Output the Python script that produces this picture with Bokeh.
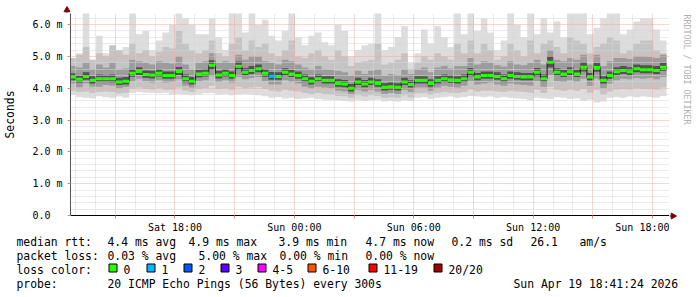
import math
import numpy as np
from bokeh.plotting import figure
from bokeh.layouts import column, row
from bokeh.models import FixedTicker, Range1d
from bokeh.core.properties import value
from bokeh.embed import file_html
from bokeh.resources import INLINE

# ---------------- data (hours since Sat 00:00, values in ms) ----------------
START_H = 12.7          # first sample (Sat 12:42)
STEP_H = 1.0 / 3.0      # 20 minute consolidated steps

median = [4.35, 4.28, 4.37, 4.25, 4.30, 4.30, 4.30, 4.20, 4.22, 4.47,
          4.53, 4.43, 4.42, 4.47, 4.40, 4.40, 4.53, 4.30, 4.22, 4.45,
          4.47, 4.72, 4.42, 4.47, 4.40, 4.69, 4.50, 4.56, 4.61, 4.47,
          4.38, 4.37, 4.50, 4.45, 4.40, 4.30, 4.22, 4.30, 4.25, 4.25,
          4.15, 4.13, 4.00, 4.20, 4.13, 4.20, 4.15, 4.03, 4.05, 4.03,
          4.20, 4.12, 4.25, 4.25, 4.15, 4.25, 4.30, 4.27, 4.25, 4.30,
          4.50, 4.35, 4.40, 4.40, 4.37, 4.30, 4.40, 4.37, 4.35, 4.35,
          4.50, 4.30, 4.82, 4.50, 4.45, 4.52, 4.45, 4.66, 4.35, 4.65,
          4.25, 4.40, 4.52, 4.56, 4.52, 4.61, 4.58, 4.58, 4.56, 4.66]

loss = [0, 0, 0, 0, 0, 0, 0, 0, 0, 0,
        0, 0, 0, 0, 0, 0, 0, 0, 0, 0,
        0, 0, 0, 0, 0, 0, 0, 0, 0, 0,
        1, 0, 0, 0, 0, 0, 0, 0, 0, 0,
        0, 0, 0, 0, 0, 0, 0, 0, 0, 0,
        0, 0, 0, 0, 0, 0, 0, 0, 0, 0,
        0, 0, 0, 0, 0, 0, 0, 0, 0, 0,
        0, 0, 0, 0, 0, 0, 0, 0, 0, 0,
        0, 0, 0, 0, 0, 0, 0, 0, 0, 0]

outer_hi = [4.80, 5.10, 6.40, 4.90, 5.65, 5.10, 5.20, 5.20, 5.30, 6.40,
            5.70, 5.80, 5.20, 5.50, 5.75, 6.00, 6.40, 6.20, 6.00, 5.70,
            5.70, 6.20, 5.60, 5.20, 6.40, 6.40, 5.75, 6.40, 6.00, 6.15,
            5.65, 5.50, 5.80, 6.40, 5.60, 5.35, 5.65, 5.75, 5.45, 5.35,
            6.00, 5.80, 5.00, 5.20, 5.35, 5.40, 6.40, 5.20, 5.30, 5.60,
            5.95, 4.80, 5.10, 5.85, 5.40, 5.95, 5.60, 5.30, 6.40, 5.70,
            6.40, 5.80, 6.20, 5.75, 5.20, 5.50, 6.40, 6.00, 5.60, 6.40,
            5.70, 6.20, 5.75, 6.10, 5.60, 6.40, 6.40, 6.40, 5.70, 5.90,
            6.20, 6.40, 6.40, 5.70, 5.85, 6.10, 6.20, 6.20, 5.85, 5.50]

outer_lo = [3.80, 3.72, 3.70, 3.68, 3.75, 3.72, 3.70, 3.74, 3.70, 3.85,
            3.88, 3.86, 3.85, 3.84, 3.86, 3.80, 3.82, 3.80, 3.78, 3.82,
            3.84, 3.85, 3.80, 3.82, 3.78, 3.80, 3.82, 3.80, 3.78, 3.75,
            3.70, 3.72, 3.68, 3.70, 3.66, 3.68, 3.70, 3.66, 3.64, 3.62,
            3.62, 3.60, 3.58, 3.62, 3.60, 3.62, 3.64, 3.58, 3.60, 3.58,
            3.62, 3.60, 3.70, 3.72, 3.66, 3.70, 3.72, 3.74, 3.70, 3.72,
            3.76, 3.74, 3.72, 3.74, 3.70, 3.72, 3.70, 3.68, 3.66, 3.62,
            3.70, 3.68, 3.66, 3.72, 3.70, 3.66, 3.68, 3.60, 3.64, 3.55,
            3.58, 3.70, 3.72, 3.70, 3.74, 3.72, 3.74, 3.72, 3.70, 3.76]

mid_hi = [4.95, 5.05, 5.30, 4.90, 5.10, 5.00, 5.35, 5.20, 5.05, 5.40,
          5.10, 5.20, 5.00, 5.15, 5.30, 5.25, 5.80, 5.40, 5.20, 5.10,
          5.20, 5.50, 5.10, 5.00, 5.40, 5.60, 5.20, 5.50, 5.30, 5.40,
          5.10, 5.00, 5.20, 5.50, 5.00, 4.95, 5.10, 5.20, 5.00, 4.90,
          5.20, 5.00, 4.70, 4.80, 4.85, 4.90, 5.40, 4.75, 4.80, 4.90,
          5.10, 4.60, 4.80, 5.00, 4.90, 5.10, 5.00, 4.90, 5.40, 5.10,
          5.50, 5.10, 5.40, 5.20, 4.90, 5.00, 5.40, 5.20, 5.00, 5.50,
          5.10, 5.40, 5.50, 5.30, 5.10, 5.60, 5.50, 5.40, 5.10, 5.30,
          5.40, 5.60, 5.50, 5.10, 5.20, 5.40, 5.50, 5.50, 5.20, 5.10]

mid_lo = [3.92, 3.88, 3.90, 3.85, 3.88, 3.90, 3.88, 3.84, 3.86, 3.98,
          4.02, 3.98, 3.96, 4.00, 3.95, 3.96, 4.02, 3.92, 3.88, 3.98,
          4.00, 4.08, 3.98, 4.00, 3.95, 4.05, 4.00, 4.02, 4.05, 3.98,
          3.92, 3.90, 3.95, 3.92, 3.90, 3.85, 3.82, 3.85, 3.82, 3.80,
          3.76, 3.75, 3.70, 3.78, 3.74, 3.78, 3.76, 3.70, 3.72, 3.70,
          3.78, 3.72, 3.84, 3.85, 3.80, 3.85, 3.88, 3.86, 3.85, 3.88,
          3.96, 3.90, 3.92, 3.92, 3.90, 3.88, 3.92, 3.90, 3.88, 3.86,
          3.95, 3.85, 4.05, 3.95, 3.92, 3.95, 3.92, 3.98, 3.86, 3.95,
          3.80, 3.90, 3.96, 3.98, 3.96, 4.00, 3.98, 3.98, 3.96, 4.02]

dark_hi = [4.70, 4.65, 4.80, 4.60, 4.75, 4.65, 4.80, 4.60, 4.62, 4.90,
           4.85, 4.80, 4.75, 4.85, 4.80, 4.78, 5.00, 4.75, 4.60, 4.80,
           4.85, 5.10, 4.80, 4.85, 4.80, 5.05, 4.90, 5.00, 5.00, 4.85,
           4.80, 4.75, 4.90, 4.85, 4.75, 4.65, 4.60, 4.70, 4.60, 4.58,
           4.55, 4.50, 4.40, 4.55, 4.45, 4.55, 4.60, 4.40, 4.45, 4.42,
           4.60, 4.45, 4.60, 4.65, 4.50, 4.65, 4.70, 4.62, 4.70, 4.70,
           4.95, 4.75, 4.85, 4.80, 4.72, 4.68, 4.85, 4.75, 4.72, 4.80,
           4.90, 4.75, 5.20, 4.90, 4.85, 4.95, 4.90, 5.05, 4.75, 5.05,
           4.70, 4.85, 4.95, 4.95, 4.92, 5.00, 5.00, 4.98, 4.95, 5.05]

dark_lo = [4.15, 4.03, 4.15, 4.05, 4.05, 4.10, 4.08, 4.00, 4.04, 4.22,
           4.30, 4.22, 4.18, 4.25, 4.18, 4.20, 4.28, 4.08, 4.02, 4.22,
           4.25, 4.38, 4.20, 4.25, 4.18, 4.35, 4.28, 4.32, 4.35, 4.22,
           4.12, 4.12, 4.25, 4.20, 4.15, 4.05, 4.00, 4.05, 4.02, 4.00,
           3.92, 3.90, 3.80, 3.95, 3.90, 3.95, 3.90, 3.82, 3.85, 3.82,
           3.95, 3.88, 4.02, 4.02, 3.92, 4.02, 4.08, 4.05, 4.02, 4.08,
           4.22, 4.12, 4.15, 4.18, 4.12, 4.08, 4.15, 4.12, 4.10, 4.08,
           4.22, 4.05, 4.40, 4.22, 4.20, 4.25, 4.20, 4.30, 4.08, 4.30,
           4.00, 4.15, 4.25, 4.30, 4.28, 4.32, 4.30, 4.32, 4.28, 4.35]

core_hi = [4.47, 4.40, 4.50, 4.38, 4.43, 4.42, 4.43, 4.33, 4.35, 4.60,
           4.66, 4.56, 4.55, 4.60, 4.53, 4.53, 4.67, 4.43, 4.35, 4.58,
           4.60, 4.88, 4.55, 4.60, 4.53, 4.84, 4.64, 4.70, 4.75, 4.60,
           4.51, 4.50, 4.63, 4.58, 4.53, 4.43, 4.35, 4.43, 4.38, 4.38,
           4.28, 4.26, 4.13, 4.33, 4.26, 4.33, 4.28, 4.16, 4.18, 4.16,
           4.33, 4.25, 4.38, 4.38, 4.28, 4.38, 4.43, 4.40, 4.38, 4.43,
           4.64, 4.48, 4.53, 4.53, 4.50, 4.43, 4.53, 4.50, 4.48, 4.48,
           4.64, 4.43, 5.00, 4.63, 4.58, 4.66, 4.58, 4.82, 4.48, 4.80,
           4.38, 4.53, 4.66, 4.70, 4.66, 4.75, 4.72, 4.72, 4.70, 4.80]

core_lo = [4.25, 4.18, 4.27, 4.15, 4.20, 4.20, 4.19, 4.10, 4.12, 4.36,
           4.42, 4.33, 4.31, 4.37, 4.30, 4.30, 4.42, 4.19, 4.12, 4.34,
           4.37, 4.58, 4.31, 4.37, 4.30, 4.57, 4.40, 4.45, 4.50, 4.36,
           4.27, 4.27, 4.39, 4.35, 4.30, 4.20, 4.12, 4.20, 4.15, 4.15,
           4.05, 4.03, 3.90, 4.10, 4.03, 4.10, 4.05, 3.93, 3.95, 3.93,
           4.10, 4.02, 4.15, 4.15, 4.05, 4.15, 4.20, 4.17, 4.15, 4.20,
           4.38, 4.25, 4.30, 4.30, 4.27, 4.20, 4.30, 4.27, 4.25, 4.25,
           4.38, 4.20, 4.65, 4.39, 4.35, 4.41, 4.35, 4.53, 4.25, 4.52,
           4.15, 4.30, 4.41, 4.45, 4.41, 4.50, 4.47, 4.47, 4.45, 4.55]

x_tick_pos = [18, 24, 30, 36, 42]
x_tick_labels = ["Sat 18:00", "Sun 00:00", "Sun 06:00", "Sun 12:00", "Sun 18:00"]
y_tick_pos = [0, 1, 2, 3, 4, 5, 6]
y_tick_labels = ["0.0\u00a0\u00a0", "1.0 m", "2.0 m", "3.0 m", "4.0 m", "5.0 m", "6.0 m"]

loss_keys = [0, 1, 2, 3, 5, 10, 19, 20]
loss_names = ["0", "1", "2", "3", "4-5", "6-10", "11-19", "20/20"]
loss_colors = ["#26ff00", "#00b8ff", "#0059ff", "#5e00ff", "#ff00ff", "#ff5500", "#ff0000", "#a10000"]

stats_rtt = ["4.4 ms avg", "4.9 ms max", "3.9 ms min", "4.7 ms now", "0.2 ms sd", "26.1", "am/s"]
stats_loss = ["0.03 % avg", "5.00 % max", "0.00 % min", "0.00 % now"]
probe_text = "20 ICMP Echo Pings (56 Bytes) every 300s"
stamp_text = "Sun Apr 19 18:41:24 2026"
watermark = "RRDTOOL / TOBI OETIKER"

# ---------------- derived plotting arrays ----------------
n = len(median)
t_left = START_H + np.arange(n) * STEP_H
t_right = t_left + STEP_H
xs = np.empty(2 * n)
xs[0::2] = t_left
xs[1::2] = t_right


def stepped(a):
    return np.repeat(np.asarray(a, dtype=float), 2)


def loss_color(v):
    for k, c in zip(loss_keys, loss_colors):
        if v <= k:
            return c
    return loss_colors[-1]


# ---------------- layout geometry (canvas pixels) ----------------
W, H = 697, 297
FL, FT, FW, FH = 67, 13, 602, 202          # plot frame
MAIN_W = FL + FW                            # 669
MAIN_H = 236                                # main figure bottom edge
FONT = "DejaVu Sans Mono"
TXT = "11.4px"


def strip(w, h, x0, x1, y0, y1):
    f = figure(width=w, height=h, output_backend="svg", toolbar_location=None,
               x_range=Range1d(x0, x1), y_range=Range1d(y0, y1),
               x_axis_location=None, y_axis_location=None, min_border=0)
    f.outline_line_color = None
    f.background_fill_color = "white"
    f.border_fill_color = "white"
    f.xgrid.visible = False
    f.ygrid.visible = False
    return f


# ---------------- main plot ----------------
p = figure(width=MAIN_W, height=MAIN_H - FT, output_backend="svg", toolbar_location=None,
           x_range=Range1d(12.75, 42.85), y_range=Range1d(0, 6.35),
           min_border_left=FL, min_border_right=0, min_border_top=0,
           min_border_bottom=MAIN_H - FT - FH)
p.background_fill_color = "white"
p.border_fill_color = "white"
p.outline_line_color = None

for lo, hi, col in [(outer_lo, outer_hi, "#dddddd"), (mid_lo, mid_hi, "#c4c4c4"),
                    (dark_lo, dark_hi, "#9c9c9c"), (core_lo, core_hi, "#525252")]:
    p.varea(x=xs, y1=stepped(lo), y2=stepped(hi), fill_color=col, level="image")

p.line(x=xs, y=stepped(median), line_color="#1e1e1e", line_width=1)
p.segment(x0=t_left, y0=median, x1=t_right, y1=median,
          line_color=[loss_color(v) for v in loss], line_width=3)

p.xgrid.ticker = FixedTicker(ticks=[h for h in range(15, 43, 3)],
                             minor_ticks=[h for h in range(13, 43) if h % 3 != 0])
p.ygrid.ticker = FixedTicker(ticks=[1, 2, 3, 4, 5, 6],
                             minor_ticks=[k / 5 for k in range(1, 32) if k % 5 != 0])
for g in (p.xgrid, p.ygrid):
    g.grid_line_color = "#eeaaaa"
    g.grid_line_dash = "1 1"
    g.minor_grid_line_color = "#d6d6d6"
    g.minor_grid_line_dash = "1 1"
    g.level = "underlay"

p.xaxis.ticker = FixedTicker(ticks=[h for h in range(15, 43, 3)])
p.xaxis.major_label_overrides = {h: "" for h in range(15, 43, 3)} | dict(zip(x_tick_pos, x_tick_labels))
p.yaxis.ticker = FixedTicker(ticks=y_tick_pos)
p.yaxis.major_label_overrides = dict(zip(y_tick_pos, y_tick_labels))
for ax in (p.xaxis[0], p.yaxis[0]):
    ax.major_label_text_font = FONT
    ax.major_label_text_font_size = "10px"
    ax.major_label_text_color = "#000000"
    ax.major_tick_in = 0
    ax.minor_tick_out = 0
    ax.minor_tick_in = 0
    ax.major_tick_line_color = "#d88a8a"
p.xaxis.major_tick_out = 3
p.xaxis.major_label_standoff = 3
p.xaxis.axis_line_color = "#000000"
p.yaxis.major_tick_out = 3
p.yaxis.major_label_standoff = 5
p.yaxis.axis_line_color = "#555555"
p.yaxis.axis_label = "Seconds"
p.yaxis.axis_label_text_font = FONT
p.yaxis.axis_label_text_font_size = TXT
p.yaxis.axis_label_text_font_style = "normal"
p.yaxis.axis_label_text_color = "#000000"
p.yaxis.axis_label_standoff = 12

# ---------------- top strip (full width): y-axis arrow ----------------
top = strip(W, FT, 0, W, FT, 0)
top.segment(x0=[FL - 0.5], y0=[FT], x1=[FL - 0.5], y1=[9], line_color="#555555", line_width=1)
top.scatter(x=[FL - 0.5], y=[9.5], marker="triangle", size=6,
            fill_color="#800000", line_color="#800000")

# ---------------- right strip: x-axis arrow + watermark ----------------
side = strip(W - MAIN_W, MAIN_H - FT, MAIN_W, W, MAIN_H, FT)
side.segment(x0=[MAIN_W], y0=[FT + FH + 0.5], x1=[MAIN_W + 3], y1=[FT + FH + 0.5],
             line_color="#000000", line_width=1)
side.scatter(x=[MAIN_W + 3.5], y=[FT + FH + 0.5], marker="triangle", angle=-math.pi / 2,
             size=6, fill_color="#800000", line_color="#800000")
side.text(x=[686], y=[FT + 1], text=[watermark], angle=-math.pi / 2,
          text_font=value(FONT), text_font_size="8.3px", text_color="#b0b0b0",
          text_align="left", text_baseline="middle")

# ---------------- bottom strip: legend / statistics ----------------
bot = strip(W, H - MAIN_H, 0, W, H, MAIN_H)
row_y = [241, 255, 269, 283]
tx, ty, tt = [], [], []


def put(x, y, t):
    tx.append(x)
    ty.append(y)
    tt.append(t)


put(16, row_y[0], "median rtt:")
for txt, cx in zip(stats_rtt, [107, 188, 278, 365, 451, 530, 579]):
    put(cx, row_y[0], txt)
put(16, row_y[1], "packet loss:")
for txt, cx in zip(stats_loss, [107, 198, 279, 365]):
    put(cx, row_y[1], txt)
put(16, row_y[2], "loss color:")
box_x = [108, 146, 183, 220, 257, 307, 368, 433]
for name, bx in zip(loss_names, box_x):
    put(bx + 15, row_y[2], name)
put(16, row_y[3], "probe:")
put(107, row_y[3], probe_text)
put(513, row_y[3], stamp_text)

bot.text(x=tx, y=ty, text=tt, text_font=value(FONT), text_font_size=TXT,
         text_color="#000000", text_align="left", text_baseline="middle")
bot.quad(left=[b + 0.5 for b in box_x], right=[b + 8.5 for b in box_x],
         top=[263.5] * len(box_x), bottom=[271.5] * len(box_x),
         fill_color=loss_colors, line_color="#000000", line_width=1)

layout = column(top, row(column(p, spacing=0), side, spacing=0), bot, spacing=0)
open("out.html", "w").write(file_html(layout, INLINE))
